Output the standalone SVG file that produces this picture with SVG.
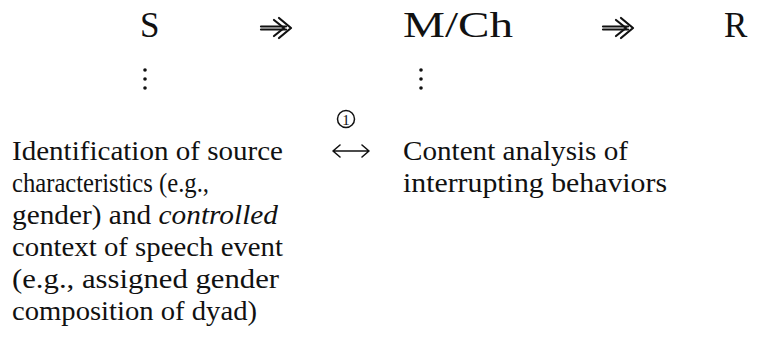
<svg xmlns="http://www.w3.org/2000/svg" width="758" height="339" viewBox="0 0 758 339">
<style>
text{font-family:'Liberation Serif','DejaVu Serif',serif;fill:#111}
.big{font-size:35px}
.body{font-size:28px}
.dot{fill:#111}
.arr{fill:none;stroke:#111;stroke-width:2.2;stroke-linecap:round;stroke-linejoin:round}
.dbl{fill:none;stroke:#111;stroke-width:1.6;stroke-linecap:round;stroke-linejoin:round}
</style>
<rect width="758" height="339" fill="#fff"/>
<g id="S">
<text class="big" x="140" y="37">S</text>
<circle class="dot" cx="145" cy="70" r="1.8"/><circle class="dot" cx="145" cy="79" r="1.8"/><circle class="dot" cx="145" cy="88" r="1.8"/>
<text class="body" x="12" y="160" textLength="271" lengthAdjust="spacingAndGlyphs">Identification of source</text>
<text class="body" x="12" y="192" textLength="197" lengthAdjust="spacingAndGlyphs">characteristics (e.g.,</text>
<text class="body" x="12" y="224" textLength="266" lengthAdjust="spacingAndGlyphs">gender) and <tspan font-style="italic">controlled</tspan></text>
<text class="body" x="12" y="256" textLength="271" lengthAdjust="spacingAndGlyphs">context of speech event</text>
<text class="body" x="12" y="288" textLength="267" lengthAdjust="spacingAndGlyphs">(e.g., assigned gender</text>
<text class="body" x="12" y="320" textLength="245" lengthAdjust="spacingAndGlyphs">composition of dyad)</text>
</g>
<g id="MCh">
<text class="big" x="403" y="37" textLength="110" lengthAdjust="spacingAndGlyphs">M/Ch</text>
<circle class="dot" cx="421" cy="70" r="1.8"/><circle class="dot" cx="421" cy="79" r="1.8"/><circle class="dot" cx="421" cy="88" r="1.8"/>
<text class="body" x="403" y="160" textLength="225" lengthAdjust="spacingAndGlyphs">Content analysis of</text>
<text class="body" x="403" y="192" textLength="264" lengthAdjust="spacingAndGlyphs">interrupting behaviors</text>
</g>
<g id="R">
<text class="big" x="724" y="37">R</text>
</g>
<g id="connectors">
<g id="arrow1">
<path class="arr" d="M261 26.5 H286 M261 29.5 H286"/>
<path class="arr" d="M279 18 L291 28 L279 38"/>
<path class="arr" d="M274 20 L284 28 L274 36"/>
</g>
<g id="arrow2">
<path class="arr" d="M603 26.5 H628 M603 29.5 H628"/>
<path class="arr" d="M621 18 L633 28 L621 38"/>
<path class="arr" d="M616 20 L626 28 L616 36"/>
</g>
<g id="link1">
<circle cx="346" cy="119" r="8.5" fill="none" stroke="#111" stroke-width="1.5"/>
<text x="346" y="124.5" font-size="15" text-anchor="middle">1</text>
<path class="dbl" d="M333 151 H369 M340 145 L333 151 L340 157 M362 145 L369 151 L362 157"/>
</g>
</g>
</svg>
